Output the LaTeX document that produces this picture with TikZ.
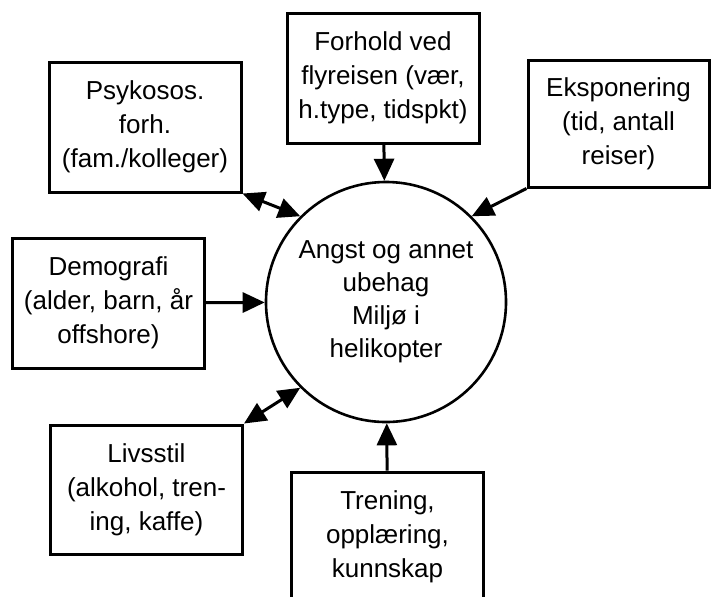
\documentclass[tikz,border=0pt]{standalone}
\usepackage{fontspec}
\setmainfont{Liberation Sans}
\usetikzlibrary{arrows.meta}

\begin{document}
\begin{tikzpicture}[x=1pt,y=-1pt]
\tikzstyle{factor} = [draw=black, line width=1.5pt, align=center, minimum width=96pt, minimum height=65pt, inner sep=2pt, font=\fontsize{13}{17}\selectfont]
\tikzstyle{state} = [circle, draw=black, line width=1.3pt, minimum size=120pt, align=center, font=\fontsize{13}{16.5}\selectfont]
\tikzstyle{edge} = [draw=black, line width=1.5pt, -{Triangle[length=11pt,width=10pt]}]
\tikzstyle{dedge} = [draw=black, line width=1.5pt, {Triangle[length=11pt,width=10pt]}-{Triangle[length=11pt,width=10pt]}]

\useasboundingbox (0,0) rectangle (355.5,298);

\node[state] (angst) at (193,151) {Angst og annet\\ubehag\\Milj\o{} i\\helikopter};

\node[factor] (psyk) at (72.5,63.5) {Psykosos.\\forh.\\(fam./kolleger)};
\node[factor] (forhold) at (191.5,39) {Forhold ved\\flyreisen (v\ae r,\\h.type, tidspkt)};
\node[factor, minimum width=90.5pt, minimum height=63.5pt] (ekspo) at (309.25,61.75) {Eksponering\\(tid, antall\\reiser)};
\node[factor] (demo) at (54.25,151.5) {Demografi\\(alder, barn, \aa r\\offshore)};
\node[factor, minimum height=64.5pt] (livs) at (73.25,244.75) {Livsstil\\(alkohol, tren-\\ing, kaffe)};
\node[factor] (tren) at (193.75,268.5) {Trening,\\oppl\ae ring,\\kunnskap};

\draw[edge] (forhold) -- (angst);
\draw[edge] (ekspo.south west) -- (angst.45);
\draw[dedge] (psyk.south east) -- (angst.135);
\draw[edge] (demo) -- (angst);
\draw[dedge] (livs.north east) -- (angst.225);
\draw[edge] (tren) -- (angst);
\end{tikzpicture}
\end{document}
